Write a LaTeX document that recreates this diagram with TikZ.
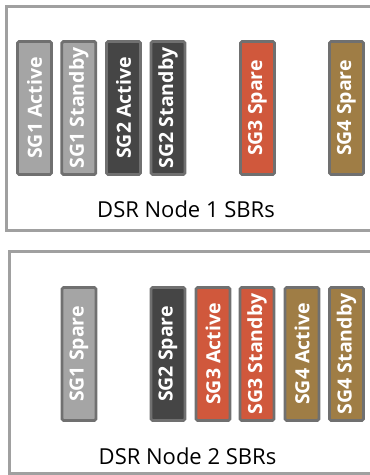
\documentclass[tikz,border=0pt]{standalone}
\usepackage{fontspec}
\setmainfont{Open Sans}
\definecolor{lgray}{HTML}{A5A5A5}
\definecolor{dgray}{HTML}{454545}
\definecolor{sgred}{HTML}{D0583C}
\definecolor{sgbrown}{HTML}{9F7D45}
\definecolor{barline}{HTML}{707070}
\definecolor{frameline}{HTML}{A0A0A0}
\begin{document}
\begin{tikzpicture}[x=1pt,y=-1pt,
  frame/.style={draw=frameline,line width=3pt},
  bar/.style={draw=barline,line width=2.8pt,rounded corners=1.5pt,minimum width=34pt,minimum height=133pt,inner sep=0pt,text=white,font=\fontsize{19.5}{19.5}\selectfont\bfseries},
  lbl/.style={font=\fontsize{22}{22}\selectfont,text=black,inner sep=0pt}]
\useasboundingbox (0,0) rectangle (370,475);
\draw[frame] (6,6) rectangle (385,230);
\draw[frame] (9,251) rectangle (385,473);
% top row
\node[bar,fill=lgray] (a1) at (34.5,108) {\rotatebox{90}{SG1 Active}};
\node[bar,fill=lgray] (a2) at (78.8,108) {\rotatebox{90}{SG1 Standby}};
\node[bar,fill=dgray] (a3) at (123.5,108) {\rotatebox{90}{SG2 Active}};
\node[bar,fill=dgray] (a4) at (168,108) {\rotatebox{90}{SG2 Standby}};
\node[bar,fill=sgred] (a5) at (257.5,108) {\rotatebox{90}{SG3 Spare}};
\node[bar,fill=sgbrown] (a6) at (346.5,108) {\rotatebox{90}{SG4 Spare}};
\node[lbl] (l1) at (186,209) {DSR Node 1 SBRs};
% bottom row
\node[bar,fill=lgray] (b1) at (79,354) {\rotatebox{90}{SG1 Spare}};
\node[bar,fill=dgray] (b2) at (168,354) {\rotatebox{90}{SG2 Spare}};
\node[bar,fill=sgred] (b3) at (213,354) {\rotatebox{90}{SG3 Active}};
\node[bar,fill=sgred] (b4) at (257,354) {\rotatebox{90}{SG3 Standby}};
\node[bar,fill=sgbrown] (b5) at (302,354) {\rotatebox{90}{SG4 Active}};
\node[bar,fill=sgbrown] (b6) at (346.5,354) {\rotatebox{90}{SG4 Standby}};
\node[lbl] (l2) at (187.5,456) {DSR Node 2 SBRs};
\end{tikzpicture}
\end{document}
